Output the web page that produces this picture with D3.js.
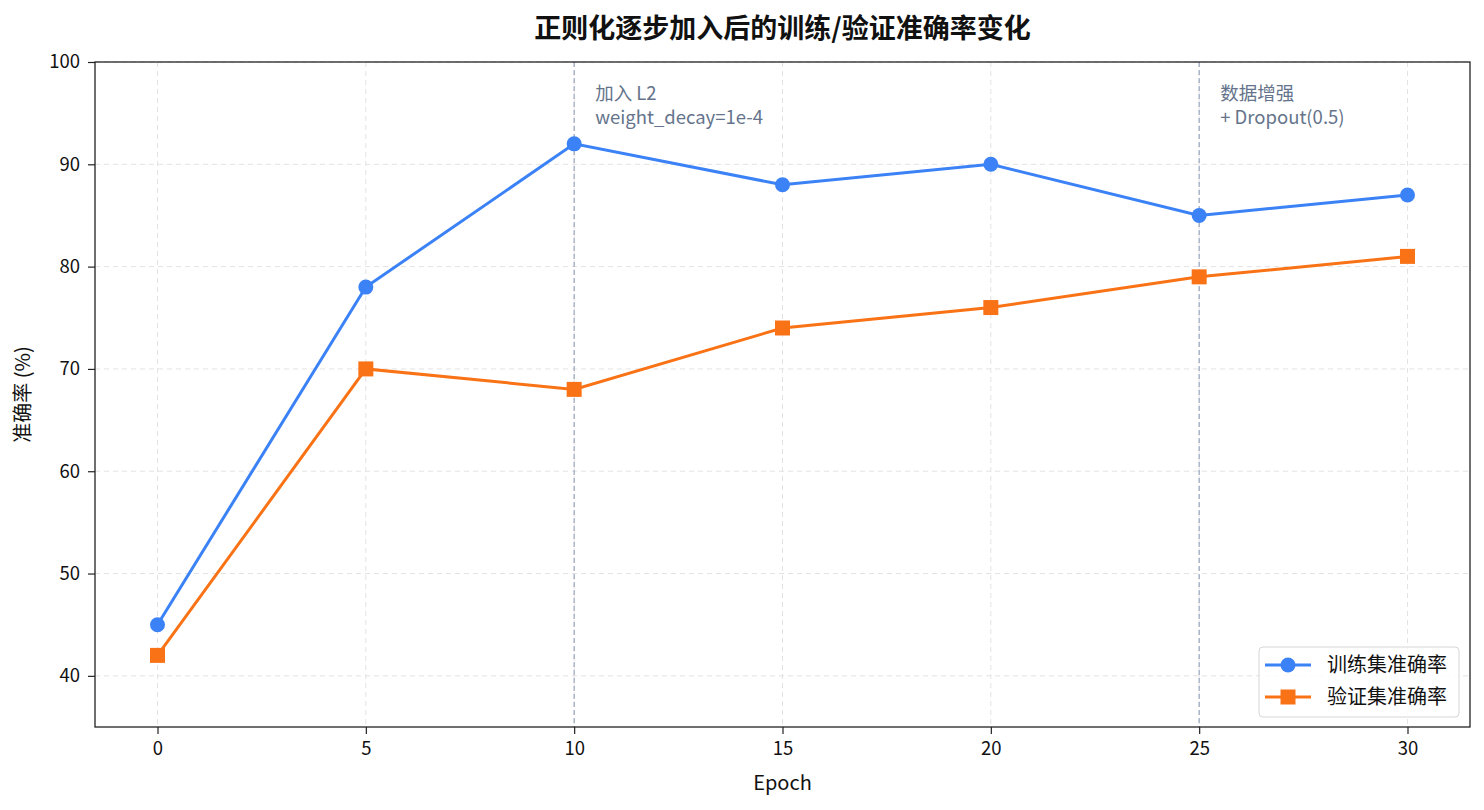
<!DOCTYPE html>
<html>
<head>
<meta charset="utf-8">
<script src="https://cdn.jsdelivr.net/npm/d3@7"></script>
<style>
  body { margin: 0; background: #fff; }
  text { font-family: "Noto Sans CJK SC", "Noto Sans", sans-serif; }
</style>
</head>
<body>
<script>
// data
const epochs = [0, 5, 10, 15, 20, 25, 30];
const trainAcc = [45, 78, 92, 88, 90, 85, 87];
const valAcc = [42, 70, 68, 74, 76, 79, 81];
const yTicks = [40, 50, 60, 70, 80, 90, 100];
const markers = [
  {epoch: 10, lines: ["加入 L2", "weight_decay=1e-4"]},
  {epoch: 25, lines: ["数据增强", "+ Dropout(0.5)"]}
];

const W = 1484, H = 810;
const m = {top: 62, right: 14, bottom: 83, left: 95};
const FONT = "'Noto Sans CJK SC', 'Noto Sans', sans-serif";

const svg = d3.select("body").append("svg")
  .attr("width", W).attr("height", H);

const x = d3.scaleLinear().domain([-1.5, 31.5]).range([m.left, W - m.right]);
const y = d3.scaleLinear().domain([35, 100]).range([H - m.bottom, m.top]);

// grid
const grid = svg.append("g");
grid.selectAll(".gx").data(epochs).join("line")
  .attr("x1", d => x(d)).attr("x2", d => x(d))
  .attr("y1", m.top).attr("y2", H - m.bottom)
  .attr("stroke", "#e3e3e3").attr("stroke-dasharray", "5,4");
grid.selectAll(".gy").data(yTicks).join("line")
  .attr("x1", m.left).attr("x2", W - m.right)
  .attr("y1", d => y(d)).attr("y2", d => y(d))
  .attr("stroke", "#e3e3e3").attr("stroke-dasharray", "5,4");

// event lines + notes
markers.forEach(mk => {
  svg.append("line")
    .attr("x1", x(mk.epoch)).attr("x2", x(mk.epoch))
    .attr("y1", m.top).attr("y2", H - m.bottom)
    .attr("stroke", "#97a6bd").attr("stroke-width", 1.2)
    .attr("stroke-dasharray", "5,3");
  const t = svg.append("text")
    .attr("x", x(mk.epoch) + 21).attr("y", 100)
    .attr("fill", "#65748b").attr("font-size", 18.5);
  mk.lines.forEach((l, i) => {
    t.append("tspan").attr("x", x(mk.epoch) + 21).attr("dy", i ? 24 : 0).text(l);
  });
});

// lines
const line = d3.line().x(d => x(d[0])).y(d => y(d[1]));
const trainPts = epochs.map((e, i) => [e, trainAcc[i]]);
const valPts = epochs.map((e, i) => [e, valAcc[i]]);

svg.append("path").datum(trainPts).attr("d", line)
  .attr("fill", "none").attr("stroke", "#3b82f6").attr("stroke-width", 3);
svg.selectAll(".tp").data(trainPts).join("circle")
  .attr("cx", d => x(d[0])).attr("cy", d => y(d[1])).attr("r", 7.5)
  .attr("fill", "#3b82f6");

svg.append("path").datum(valPts).attr("d", line)
  .attr("fill", "none").attr("stroke", "#f97316").attr("stroke-width", 3);
svg.selectAll(".vp").data(valPts).join("rect")
  .attr("x", d => x(d[0]) - 7.5).attr("y", d => y(d[1]) - 7.5)
  .attr("width", 15).attr("height", 15)
  .attr("fill", "#f97316");

// axes frame
svg.append("rect")
  .attr("x", m.left).attr("y", m.top)
  .attr("width", W - m.left - m.right).attr("height", H - m.top - m.bottom)
  .attr("fill", "none").attr("stroke", "#222").attr("stroke-width", 1.3);

const xAxis = svg.append("g")
  .attr("transform", `translate(0,${H - m.bottom})`)
  .call(d3.axisBottom(x).tickValues(epochs).tickSize(7).tickPadding(8));
const yAxis = svg.append("g")
  .attr("transform", `translate(${m.left},0)`)
  .call(d3.axisLeft(y).tickValues(yTicks).tickSize(7).tickPadding(8));
[xAxis, yAxis].forEach(a => {
  a.select(".domain").remove();
  a.selectAll(".tick line").attr("stroke", "#222").attr("stroke-width", 1.2);
  a.selectAll(".tick text").attr("font-size", 18.5).attr("fill", "#111")
    .attr("font-family", FONT);
});

// labels
svg.append("text")
  .attr("x", (m.left + W - m.right) / 2).attr("y", 790)
  .attr("text-anchor", "middle").attr("font-size", 20).attr("fill", "#111")
  .text("Epoch");
svg.append("text")
  .attr("transform", `translate(30,${(m.top + H - m.bottom) / 2}) rotate(-90)`)
  .attr("text-anchor", "middle").attr("font-size", 20).attr("fill", "#111")
  .text("准确率 (%)");
svg.append("text")
  .attr("x", (m.left + W - m.right) / 2).attr("y", 38)
  .attr("text-anchor", "middle").attr("font-size", 27).attr("font-weight", "bold")
  .attr("fill", "#111")
  .text("正则化逐步加入后的训练/验证准确率变化");

// legend
const lg = svg.append("g").attr("transform", "translate(1259,647)");
lg.append("rect").attr("width", 200).attr("height", 70).attr("rx", 4)
  .attr("fill", "#fff").attr("fill-opacity", 0.85)
  .attr("stroke", "#d6d6d6");
const items = [
  {name: "训练集准确率", color: "#3b82f6", shape: "circle"},
  {name: "验证集准确率", color: "#f97316", shape: "square"}
];
items.forEach((it, i) => {
  const g = lg.append("g").attr("transform", `translate(0,${18 + i * 32})`);
  g.append("line").attr("x1", 6).attr("x2", 52)
    .attr("stroke", it.color).attr("stroke-width", 3);
  if (it.shape === "circle") {
    g.append("circle").attr("cx", 29).attr("r", 7.5).attr("fill", it.color);
  } else {
    g.append("rect").attr("x", 21.5).attr("y", -7.5).attr("width", 15).attr("height", 15)
      .attr("fill", it.color);
  }
  g.append("text").attr("x", 68).attr("y", 7)
    .attr("font-size", 20).attr("fill", "#111").text(it.name);
});
</script>
</body>
</html>
